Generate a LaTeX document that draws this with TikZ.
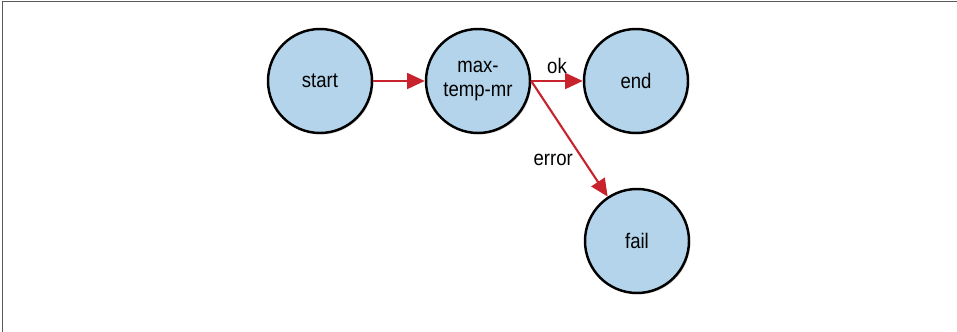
\documentclass[tikz,border=0pt]{standalone}
\usepackage{fontspec}
\setmainfont{Liberation Sans}[FakeStretch=0.88]
\usepackage{xcolor}
\usetikzlibrary{shapes,positioning,arrows.meta,shadows}
\definecolor{nodeblue}{RGB}{179,212,234}
\definecolor{arrred}{RGB}{200,35,45}
\tikzset{ell/.style={circle,draw,line width=1.4pt,fill=nodeblue,minimum size=2.08cm,inner sep=0pt,align=center,font=\fontsize{12}{13.5}\selectfont,drop shadow={shadow xshift=0.8pt,shadow yshift=-0.8pt,opacity=0.35}}}
\tikzset{lnk/.style={->,draw=arrred,line width=1.2pt}}

\begin{document}
\begin{tikzpicture}[>={Triangle[length=10pt,width=9pt]}]
    \useasboundingbox (0,0) rectangle (19.14,6.64);
    \draw [gray!70!black,line width=0.9pt] (0.05,0) -- (0.05,6.61) -- (19.14,6.61);

    \node[ell] (a)at (6.40,5.02) {start};
    \node[ell] (b)at (9.56,5.02) {max-\\temp-mr};
    \node[ell] (c)at (12.72,5.02) {end};
    \node[ell] (d)at (12.74,1.82) {fail};

    \draw [lnk] (a) to (b);
    \draw [lnk] (b.east) to node[above,font=\fontsize{12}{13.5}\selectfont]{ok} (c);
    \draw [lnk] (b.east) to node[pos=0.68,left=2pt,font=\fontsize{12}{13.5}\selectfont]{error} (d);
\end{tikzpicture}
\end{document}
